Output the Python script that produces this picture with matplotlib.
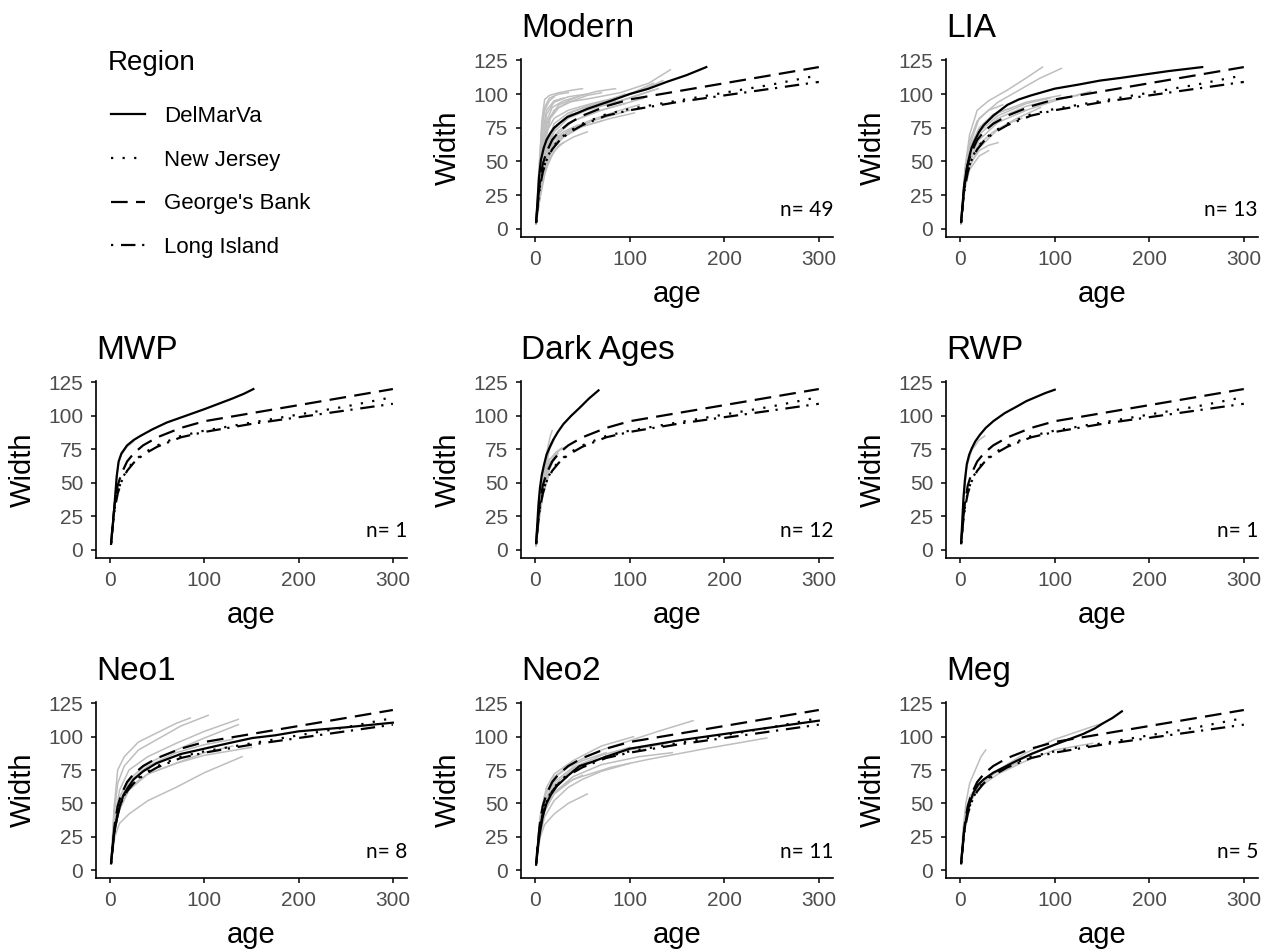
# Growth curves of width vs age by period, with regional reference curves
import matplotlib.pyplot as plt
from matplotlib.lines import Line2D

plt.rcParams['font.family'] = ['Liberation Sans', 'DejaVu Sans']

# ---- data ----
PERIODS = ["Modern", "LIA", "MWP", "Dark Ages", "RWP", "Neo1", "Neo2", "Meg"]
N_COUNTS = [49, 13, 1, 12, 1, 8, 11, 5]

REGIONS = ["DelMarVa", "New Jersey", "George's Bank", "Long Island"]

# reference curves (same in every panel)
REF_AGE = [1, 3, 5, 8, 12, 18, 25, 35, 50, 75, 100, 150, 200, 250, 300]
NJ_WIDTH = [5, 21, 32, 43, 52, 60, 66, 72, 78, 85, 89, 95, 101, 107, 114]
GB_WIDTH = [5, 22, 35, 48, 57, 66, 72, 78, 84, 91, 96, 102, 108, 114, 120]
LI_WIDTH = [5, 20, 31, 42, 51, 59, 65, 71, 77, 84, 88, 94, 99, 104, 109]

# DelMarVa curve for each period (age, width)
MODERN_DMV = [(1, 5), (2.5, 21), (4, 38), (6, 51), (9, 60), (12, 66), (16, 71), (20, 75),
              (25, 78), (34, 83), (45, 86), (55, 89), (80, 95), (100, 100), (120, 104),
              (139, 109), (160, 114), (181, 120)]
LIA_DMV = [(1, 5), (4, 31), (7, 45), (9.5, 53), (12, 60), (15, 65), (20, 72), (25, 77),
           (35, 84), (50, 92), (62, 96), (75, 99), (100, 104), (125, 107), (148, 110),
           (170, 112), (190, 114), (220, 117), (256, 120)]
MWP_DMV = [(1, 4.5), (3, 20), (5, 37), (7, 55), (9, 66), (12, 72), (15, 75), (18, 78),
           (25, 82), (32, 85), (45, 90), (60, 95), (80, 100), (100, 105), (115, 109),
           (130, 113), (142, 116.5), (152, 120)]
DARK_DMV = [(1, 5), (3.5, 34), (5, 46), (7, 56), (9.5, 64), (12, 71), (15, 76), (19, 82),
            (24, 88), (30, 94), (38, 100), (47, 106), (57, 113), (67, 119)]
RWP_DMV = [(1, 5), (3.5, 39), (5, 52), (7, 64), (9.5, 71), (12.4, 76), (16, 81), (21, 86),
           (27, 91), (35, 96), (47, 102), (60, 107), (70, 111), (80, 114), (90, 117),
           (100, 119.5)]
NEO1_DMV = [(1, 5), (4, 26), (7, 38), (10, 47), (14, 56), (19, 62), (25, 68), (35, 74),
            (49, 80), (60, 83), (75, 87), (100, 91), (125, 95), (151, 99), (175, 101),
            (200, 104), (250, 107), (300, 110.5)]
NEO2_DMV = [(1, 4), (3, 18), (5, 28), (8, 40), (12, 50), (17, 57), (23, 63), (35, 71),
            (47, 78), (60, 81), (75, 85), (100, 91), (125, 94), (150, 97), (200, 102),
            (250, 107), (300, 112)]
MEG_DMV = [(1, 5), (4, 28), (7, 41), (10, 50), (14, 58), (19, 64), (25, 68), (35, 73),
           (49, 78), (60, 82), (75, 87), (100, 94), (115, 98), (130, 102), (142, 106),
           (151, 110), (161, 114), (171, 119)]

# individual specimens (grey)
MODERN_GREY = [
    [(1, 4), (4, 40), (7, 80), (10, 96), (15, 99), (25, 101), (40, 103), (50, 104)],
    [(1, 4), (4, 35), (7, 70), (10, 90), (15, 97), (25, 100), (35, 101)],
    [(1, 4), (4, 30), (8, 65), (12, 85), (20, 94), (35, 98), (55, 100)],
    [(1, 4), (4, 32), (8, 60), (12, 78), (20, 88), (35, 94), (60, 97), (90, 101), (120, 108), (143, 118)],
    [(1, 4), (4, 30), (8, 55), (12, 72), (20, 82), (35, 88), (60, 93), (90, 98), (120, 105), (135, 110)],
    [(1, 4), (5, 30), (10, 55), (15, 68), (25, 78), (40, 85), (60, 90), (90, 95), (125, 103)],
    [(1, 4), (5, 28), (10, 50), (15, 63), (25, 73), (40, 80), (60, 86), (90, 92), (115, 97)],
    [(1, 4), (5, 25), (10, 45), (15, 58), (25, 68), (40, 75), (60, 81), (90, 88), (110, 92)],
    [(1, 4), (5, 22), (10, 40), (15, 52), (25, 62), (40, 68), (55, 72)],
    [(1, 4), (5, 24), (10, 42), (17, 58), (30, 68), (50, 76), (80, 82), (105, 86)],
    [(1, 4), (5, 35), (8, 60), (12, 80), (18, 90), (30, 95), (45, 98)],
    [(1, 4), (4, 45), (7, 75), (10, 88), (15, 95), (20, 98)],
    [(1, 4), (5, 28), (10, 52), (20, 72), (35, 82), (55, 88), (80, 93), (100, 97), (130, 104)],
    [(1, 4), (5, 32), (10, 58), (20, 78), (35, 86), (55, 91), (75, 95), (95, 100)],
    [(1, 4), (5, 26), (10, 48), (20, 66), (30, 72), (45, 77)],
    [(1, 4), (6, 35), (12, 60), (20, 74), (35, 84), (60, 90), (85, 95)],
    [(1, 4), (5, 30), (10, 62), (16, 82), (25, 90), (40, 95), (55, 99), (70, 101)],
    [(1, 4), (5, 27), (10, 46), (20, 62), (35, 72), (60, 80), (85, 85), (100, 88)],
    [(1, 4), (4, 38), (8, 72), (12, 88), (20, 95), (30, 97)],
    [(1, 4), (5, 30), (10, 55), (20, 75), (40, 87), (70, 94), (100, 100), (125, 108)],
    [(1, 4), (5, 28), (10, 50), (20, 68), (40, 80), (70, 88), (95, 93)],
    [(1, 4), (6, 30), (12, 52), (25, 67), (45, 75), (70, 80)],
    [(1, 4), (5, 36), (9, 65), (15, 82), (25, 92), (45, 98), (65, 102), (85, 104)],
    [(1, 4), (5, 25), (10, 42), (20, 58), (30, 64)],
]
LIA_GREY = [
    [(1, 4), (5, 45), (10, 70), (18, 88), (30, 95), (50, 103), (70, 112), (87, 120)],
    [(1, 4), (5, 40), (10, 62), (20, 82), (40, 94), (60, 102), (85, 112), (107, 119)],
    [(1, 4), (5, 38), (10, 58), (20, 74), (40, 86), (70, 94), (106, 99)],
    [(1, 4), (5, 35), (10, 52), (20, 66), (40, 79), (70, 88), (100, 95), (138, 102)],
    [(1, 4), (5, 33), (10, 48), (20, 58), (30, 62), (40, 64)],
    [(1, 4), (5, 30), (10, 44), (20, 54), (30, 58)],
    [(1, 4), (5, 36), (10, 55), (20, 70), (40, 82), (70, 91), (100, 96), (125, 99)],
    [(1, 4), (5, 40), (10, 60), (20, 75), (35, 85), (55, 90)],
    [(1, 4), (5, 34), (10, 50), (20, 63), (35, 72), (50, 78), (65, 82)],
    [(1, 4), (5, 42), (10, 65), (18, 80), (30, 88), (45, 92)],
    [(1, 4), (5, 32), (10, 46), (20, 60), (40, 74), (60, 82), (85, 90)],
    [(1, 4), (5, 37), (10, 56), (20, 72), (40, 84), (70, 93), (95, 97)],
    [(1, 4), (4, 35), (8, 52), (12, 60), (18, 66)],
]
MWP_GREY = [
    [(1, 4.5), (3, 20), (5, 37), (7, 55), (9, 65), (12, 71), (18, 77), (25, 81)],
]
DARK_GREY = [
    [(1, 3), (4, 30), (8, 55), (12, 72), (16, 85), (18, 89)],
    [(1, 3), (4, 28), (8, 50), (12, 65), (16, 78), (20, 84)],
    [(1, 3), (5, 30), (10, 52), (15, 63), (20, 70), (25, 74), (32, 77)],
    [(1, 3), (5, 32), (10, 55), (15, 67), (22, 73), (28, 76)],
    [(1, 3), (4, 25), (8, 45), (12, 58), (16, 66)],
    [(1, 3), (4, 30), (8, 50), (12, 62), (15, 68)],
    [(1, 3), (5, 35), (10, 60), (15, 75), (20, 82)],
    [(1, 3), (4, 22), (8, 40), (12, 50), (14, 55)],
    [(1, 3), (5, 28), (10, 48), (15, 60), (20, 68), (24, 72)],
    [(1, 3), (4, 32), (8, 58), (12, 70), (17, 80)],
    [(1, 3), (5, 30), (10, 50), (14, 58)],
    [(1, 3), (4, 26), (8, 46), (12, 56), (18, 65), (22, 70)],
]
RWP_GREY = [
    [(1, 5), (3.5, 37), (7, 62), (12, 74), (20, 82), (26, 85)],
]
NEO1_GREY = [
    [(1, 5), (4, 45), (8, 75), (15, 85), (30, 96), (50, 103), (70, 110), (85, 114)],
    [(1, 5), (4, 40), (8, 65), (15, 78), (30, 90), (50, 98), (75, 108), (104, 116)],
    [(1, 5), (4, 35), (10, 60), (20, 75), (40, 85), (70, 95), (100, 104), (136, 113)],
    [(1, 5), (4, 32), (10, 55), (20, 68), (40, 80), (70, 90), (100, 99), (136, 109)],
    [(1, 5), (5, 30), (10, 45), (20, 60), (40, 72), (70, 80), (100, 86), (150, 92)],
    [(1, 5), (5, 25), (10, 35), (20, 42), (40, 52), (70, 62), (100, 73), (140, 85)],
    [(1, 5), (5, 30), (10, 48), (20, 62), (40, 72), (70, 80), (100, 88), (130, 93)],
    [(1, 5), (5, 35), (10, 52), (20, 66), (40, 78), (70, 88), (100, 94), (130, 98)],
]
NEO2_GREY = [
    [(1, 4), (5, 35), (10, 55), (20, 70), (40, 80), (70, 90), (100, 97), (130, 104), (167, 112)],
    [(1, 4), (5, 40), (12, 62), (20, 72), (40, 82), (70, 93), (104, 100)],
    [(1, 4), (5, 30), (10, 44), (20, 57), (40, 68), (80, 77), (120, 83), (180, 91), (245, 99)],
    [(1, 4), (5, 24), (10, 34), (20, 42), (35, 50), (55, 57)],
    [(1, 4), (5, 30), (10, 48), (20, 62), (40, 74), (70, 84), (100, 90), (140, 95)],
    [(1, 4), (5, 32), (10, 50), (20, 64), (40, 76), (70, 86), (100, 92)],
    [(1, 4), (5, 28), (10, 45), (20, 58), (40, 70), (70, 79), (110, 85), (145, 88)],
    [(1, 4), (5, 34), (10, 52), (20, 66), (40, 77), (60, 83)],
    [(1, 4), (5, 30), (10, 46), (20, 58), (35, 66), (50, 71)],
    [(1, 4), (5, 36), (10, 56), (20, 69), (35, 77), (50, 82), (75, 88)],
    [(1, 4), (5, 26), (10, 40), (20, 52), (35, 62), (50, 68), (70, 74), (100, 80)],
]
MEG_GREY = [
    [(1, 5), (3, 30), (6, 50), (10, 65), (16, 75), (22, 85), (27, 90)],
    [(1, 5), (5, 35), (10, 52), (20, 64), (40, 75), (70, 88), (100, 98), (150, 110)],
    [(1, 5), (5, 35), (10, 50), (20, 62), (40, 72), (70, 82), (100, 90), (140, 95)],
    [(1, 5), (5, 40), (10, 55), (20, 65), (40, 74), (60, 80)],
    [(1, 5), (5, 38), (10, 52), (20, 63), (35, 72), (50, 78), (80, 88), (110, 97)],
]

PERIOD_DMV = [MODERN_DMV, LIA_DMV, MWP_DMV, DARK_DMV, RWP_DMV, NEO1_DMV, NEO2_DMV, MEG_DMV]
PERIOD_GREY = [MODERN_GREY, LIA_GREY, MWP_GREY, DARK_GREY, RWP_GREY, NEO1_GREY, NEO2_GREY, MEG_GREY]

# ---- layout (pixel boxes of each panel) ----
W, H = 1277, 949
COL_X = [(96, 407), (521, 833), (946, 1258)]
ROW_Y = [(59, 237), (381, 558), (702, 878)]
CELLS = [(0, 1), (0, 2), (1, 0), (1, 1), (1, 2), (2, 0), (2, 1), (2, 2)]

GREY = '#bebebe'
LW = 1.6
STYLES = {
    "DelMarVa": dict(linestyle='-'),
    "New Jersey": dict(linestyle=(0, (1, 4.2))),
    "George's Bank": dict(linestyle=(0, (7.5, 3.75))),
    "Long Island": dict(linestyle=(0, (1, 3.5, 6.5, 3))),
}

fig = plt.figure(figsize=(W / 100, H / 100), dpi=100)

for name, n, dmv, greys, (r, c) in zip(PERIODS, N_COUNTS, PERIOD_DMV, PERIOD_GREY, CELLS):
    x0, x1 = COL_X[c]
    y0, y1 = ROW_Y[r]
    ax = fig.add_axes([x0 / W, 1 - y1 / H, (x1 - x0) / W, (y1 - y0) / H])

    for g in greys:
        ax.plot([p[0] for p in g], [p[1] for p in g], color=GREY, lw=1.1, zorder=1)

    ax.plot(REF_AGE, NJ_WIDTH, color='black', lw=LW, zorder=2, **STYLES["New Jersey"])
    ax.plot(REF_AGE, GB_WIDTH, color='black', lw=LW, zorder=2, **STYLES["George's Bank"])
    ax.plot(REF_AGE, LI_WIDTH, color='black', lw=LW, zorder=2, **STYLES["Long Island"])
    ax.plot([p[0] for p in dmv], [p[1] for p in dmv], color='black', lw=LW, zorder=3,
            **STYLES["DelMarVa"])

    ax.set_xlim(-15, 315)
    ax.set_ylim(-6, 126)
    ax.set_xticks([0, 100, 200, 300])
    ax.set_yticks([0, 25, 50, 75, 100, 125])
    for s in ['top', 'right']:
        ax.spines[s].set_visible(False)
    for s in ['left', 'bottom']:
        ax.spines[s].set_linewidth(1.2)
    ax.tick_params(direction='out', length=3.6, width=1.1, color='black',
                   labelcolor='#4d4d4d', labelsize=15)
    ax.tick_params(axis='y', pad=5.5)
    ax.tick_params(axis='x', pad=5.5)

    ax.set_title(name, loc='left', fontsize=24, pad=16)
    ax.set_xlabel('age', fontsize=21, labelpad=8)
    ax.set_ylabel('Width', fontsize=21, labelpad=8)
    ax.text(1.0, 0.15, f'n= {n}', transform=ax.transAxes, ha='right', va='center',
            fontsize=15, family=['Lato', 'DejaVu Sans'])

fig.text(108 / W, 1 - 63 / H, 'Region', fontsize=20, ha='left', va='center')
handles = [Line2D([], [], color='black', lw=LW, **STYLES[rg]) for rg in REGIONS]
fig.legend(handles, REGIONS, loc='upper left',
           bbox_to_anchor=(111 / W, 1 - 106 / H), frameon=False, fontsize=16,
           handlelength=1.55, handletextpad=0.85, labelspacing=1.02,
           borderpad=0, borderaxespad=0)

fig.savefig('out.png', dpi=100)
